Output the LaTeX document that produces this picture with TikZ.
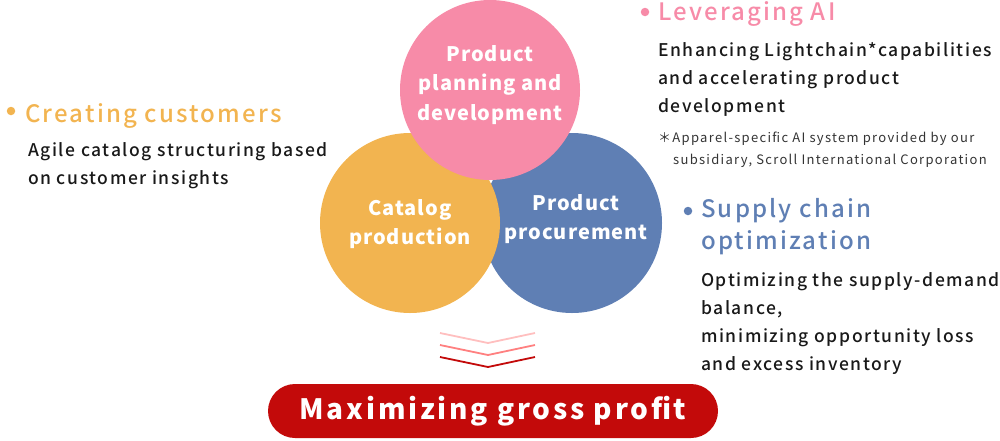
\documentclass[tikz,border=0pt]{standalone}
\usepackage{fontspec}
\setmainfont{Noto Sans CJK JP}[LetterSpace=10]
\newfontfamily\bubblefont{Noto Sans CJK JP}[LetterSpace=5]
\newfontfamily\notefont{Noto Sans CJK JP}[LetterSpace=10]
\newfontfamily\mediumfont{Noto Sans CJK JP Medium}[LetterSpace=9]
\usepackage{xcolor}
\usetikzlibrary{positioning}
\definecolor{planpink}{HTML}{F78BA8}
\definecolor{catorange}{HTML}{F2B450}
\definecolor{procblue}{HTML}{5F7FB4}
\definecolor{profitred}{HTML}{C30A0A}
\definecolor{notegray}{HTML}{333333}
\tikzstyle{bubble} = [circle, minimum size=180pt, inner sep=0pt]
\tikzstyle{bubbletext} = [text=white, align=center, font=\bubblefont\fontsize{20}{29.5}\selectfont\bfseries]
\tikzstyle{heading} = [anchor=base west, inner sep=0pt, align=left, font=\mediumfont\fontsize{24}{32}\selectfont]
\tikzstyle{body} = [anchor=base west, inner sep=0pt, align=left, text=black!90, font=\mediumfont\fontsize{17.5}{27.7}\selectfont]
\tikzstyle{note} = [anchor=base west, inner sep=0pt, align=left, text=notegray, font=\notefont\fontsize{13}{22}\selectfont]
\tikzstyle{dot} = [circle, minimum size=8.5pt, inner sep=0pt]
\tikzstyle{chevron} = [line width=1.8pt]

\begin{document}
\begin{tikzpicture}[x=1pt, y=-1pt]
    \useasboundingbox (0,0) rectangle (1000,440);
    % Circles
    \node (proc) [bubble, fill=procblue] at (572,223) {};
    \node (cat) [bubble, fill=catorange] at (410,223) {};
    \node (plan) [bubble, fill=planpink] at (490,90) {};
    \node (plan_txt) [bubbletext] at (490,85) {Product\\planning and\\development};
    \node (cat_txt) [bubbletext] at (410,224) {Catalog\\production};
    \node (proc_txt) [bubbletext] at (576,219) {Product\\procurement};
    % Creating customers (base = last line)
    \node (cust_dot) [dot, fill=catorange] at (11,111) {};
    \node (cust_head) [heading, text=catorange] at (25,122) {Creating customers};
    \node (cust_body) [body] at (28,184) {Agile catalog structuring based\\on customer insights};
    % Leveraging AI
    \node (ai_dot) [dot, fill=planpink] at (645,12) {};
    \node (ai_head) [heading, text=planpink] at (658,20) {Leveraging AI};
    \node (ai_body) [body] at (658,112) {Enhancing Lightchain*capabilities\\and accelerating product\\development};
    \node (ai_note) [note] at (658,164) {＊Apparel-specific AI system provided by our\\\hspace*{15pt}subsidiary, Scroll International Corporation};
    % Supply chain optimization
    \node (sc_dot) [dot, fill=procblue] at (688,211) {};
    \node (sc_head) [heading, text=procblue] at (701,249) {Supply chain\\optimization};
    \node (sc_body) [body] at (701,370) {Optimizing the supply-demand\\balance,\\minimizing opportunity loss\\and excess inventory};
    % Chevrons
    \draw [chevron, red!25] (440,333) -- (488,343) -- (535,333);
    \draw [chevron, red!50] (440,345) -- (488,355) -- (535,345);
    \draw [chevron, profitred] (440,357) -- (488,367) -- (535,357);
    % Result
    \node (profit) [rectangle, rounded corners=27pt, fill=profitred, minimum width=450pt, minimum height=54pt, text=white, font=\fontsize{28}{30}\selectfont\bfseries] at (493,411) {Maximizing gross profit};
\end{tikzpicture}
\end{document}
